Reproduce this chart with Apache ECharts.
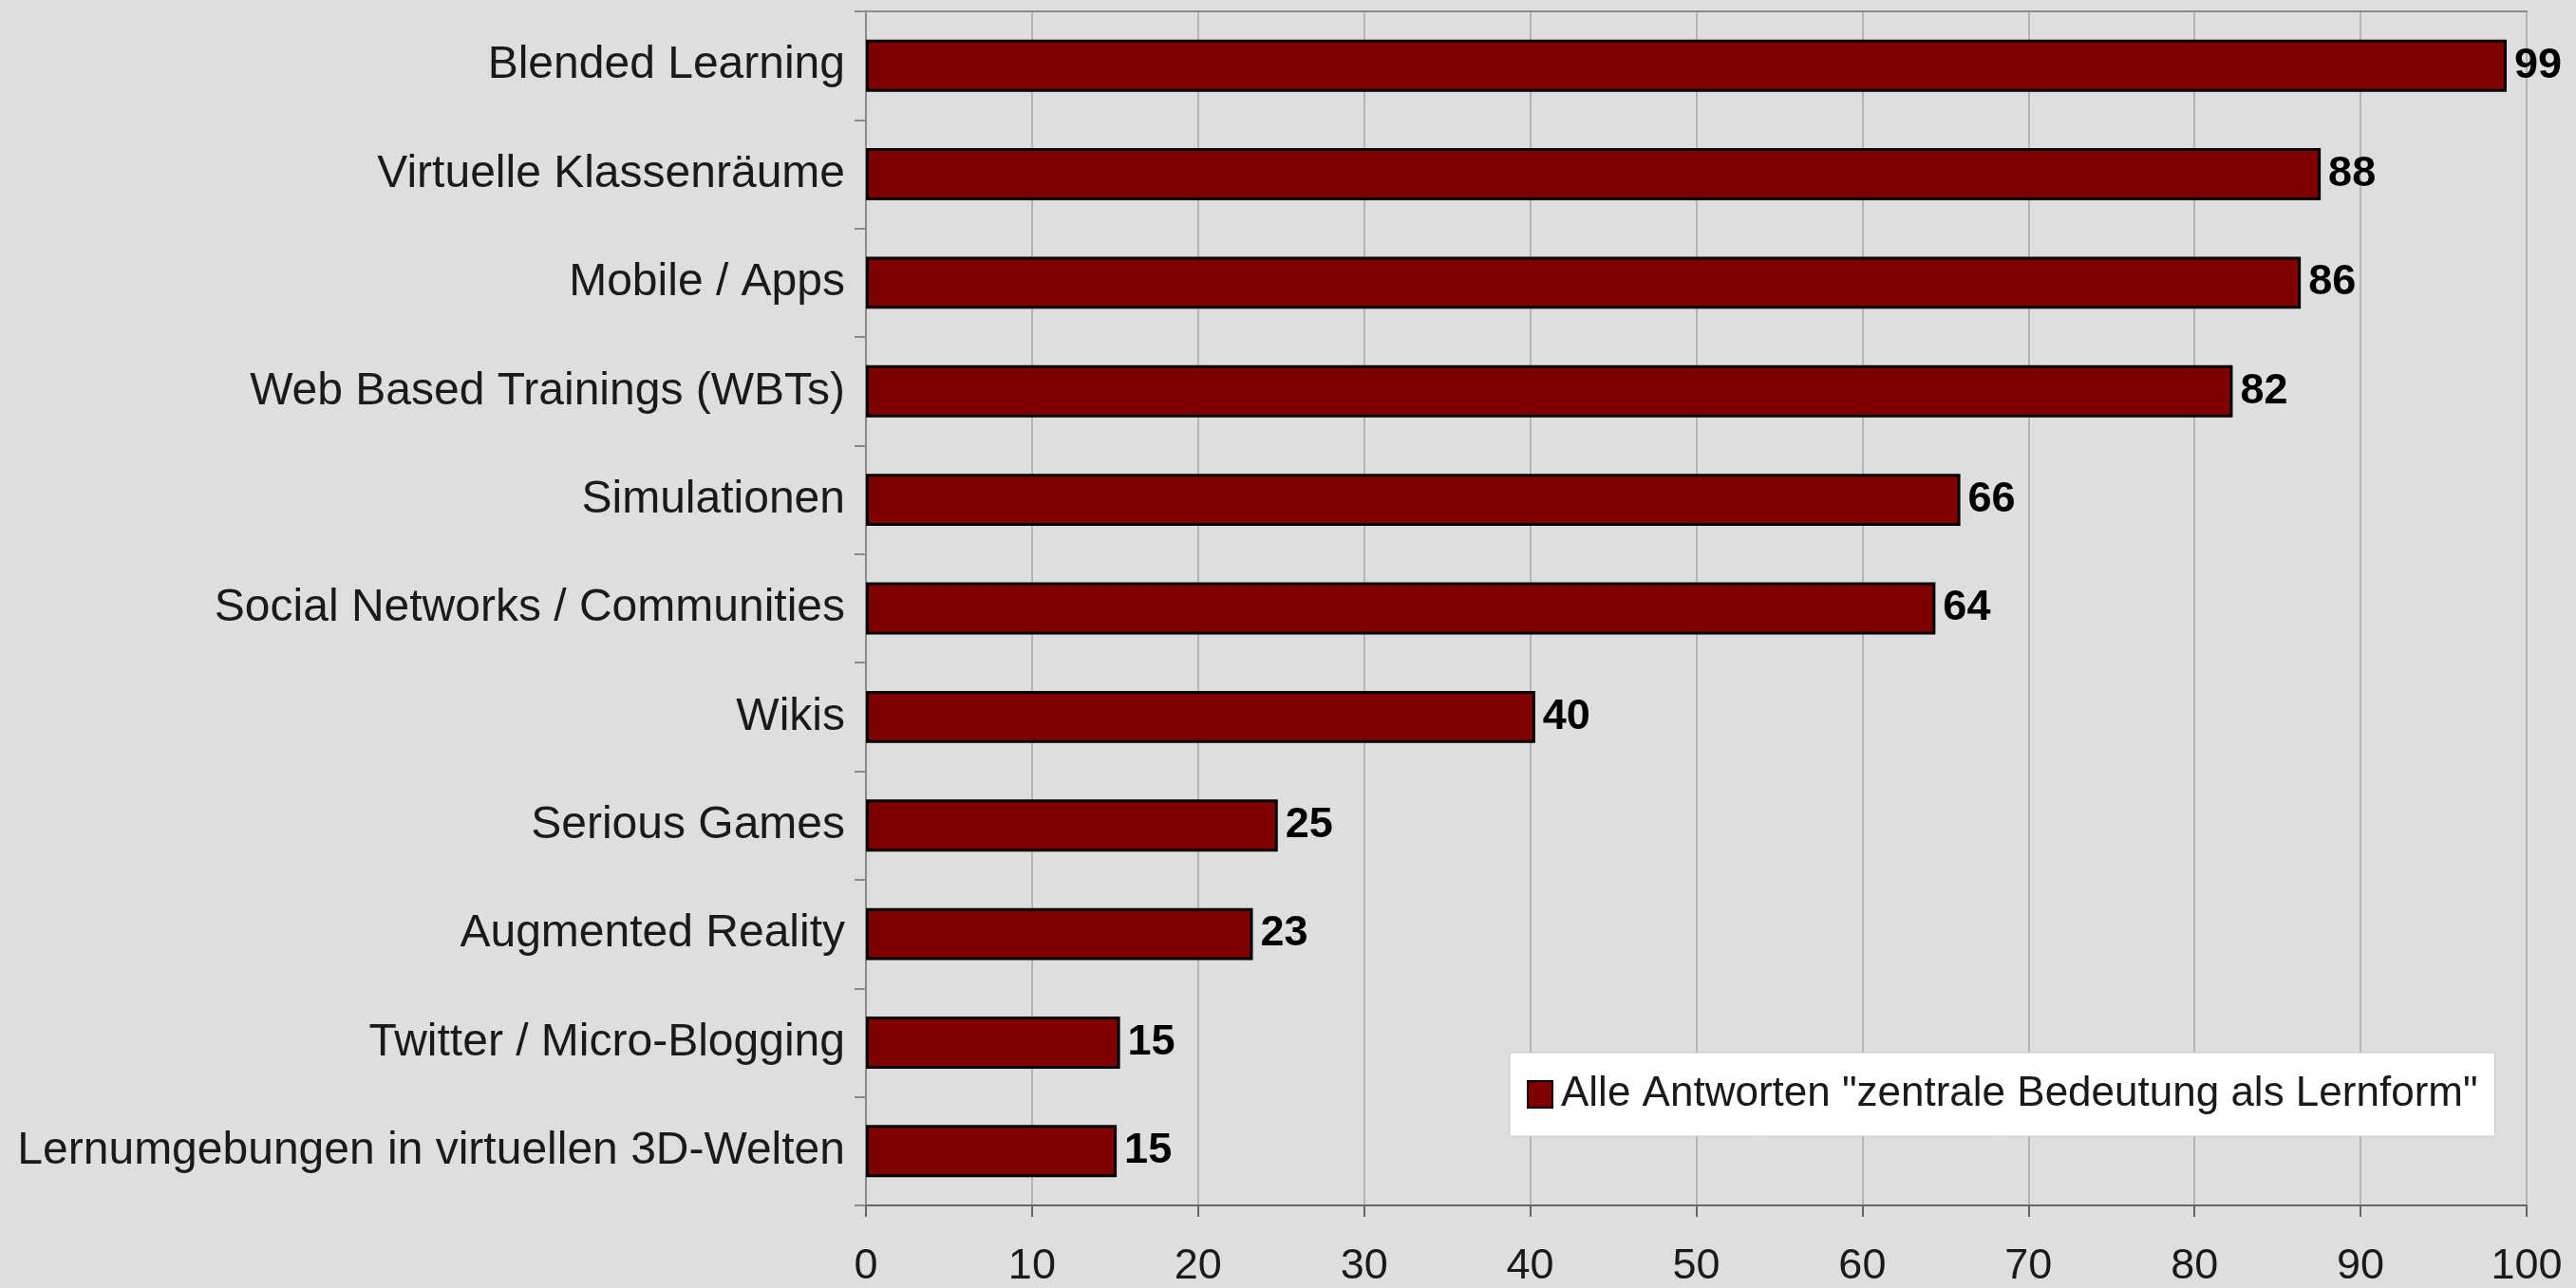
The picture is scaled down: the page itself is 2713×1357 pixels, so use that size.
<!DOCTYPE html>
<html>
<head>
<meta charset="utf-8">
<script src="https://cdn.jsdelivr.net/npm/echarts@6/dist/echarts.min.js"></script>
<style>
  html, body { margin: 0; padding: 0; background: #dedede; }
  #chart { width: 2713px; height: 1357px; }
</style>
</head>
<body>
<div id="chart"></div>
<script>
// categories top to bottom
const categories = [
  'Blended Learning',
  'Virtuelle Klassenräume',
  'Mobile / Apps',
  'Web Based Trainings (WBTs)',
  'Simulationen',
  'Social Networks / Communities',
  'Wikis',
  'Serious Games',
  'Augmented Reality',
  'Twitter / Micro-Blogging',
  'Lernumgebungen in virtuellen 3D-Welten',
];
const values = [98.8, 87.6, 86.4, 82.3, 65.9, 64.4, 40.3, 24.8, 23.3, 15.3, 15.1];
const seriesName = 'Alle Antworten "zentrale Bedeutung als Lernform"';
const xTicks = [0, 100, 10]; // min, max, interval

const font = '"Liberation Sans", Arial, sans-serif';
const chart = echarts.init(document.getElementById('chart'));

const option = {
  backgroundColor: '#dedede',
  textStyle: { fontFamily: font },
  grid: { left: 912, right: 52, top: 12, bottom: 82 },
  legend: {
    left: 1590,
    top: 1109,
    orient: 'horizontal',
    backgroundColor: '#ffffff',
    borderColor: '#c8c8c8',
    borderWidth: 1,
    padding: [22, 18, 22, 18],
    itemWidth: 26,
    itemHeight: 28,
    itemGap: 0,
    icon: 'rect',
    textStyle: { fontSize: 44, color: '#1a1a1a', fontFamily: font, padding: [0, 0, 0, 4] },
    data: [seriesName],
  },
  xAxis: [
    {
      type: 'value',
      min: xTicks[0],
      max: xTicks[1],
      interval: xTicks[2],
      axisLine: { show: true, lineStyle: { color: '#666', width: 2 } },
      axisTick: { show: true, length: 12, lineStyle: { color: '#666', width: 2 } },
      axisLabel: { fontSize: 45, color: '#1a1a1a', margin: 42, fontFamily: font },
      splitLine: { show: true, lineStyle: { color: '#b4b4b4', width: 2 } },
    },
    {
      // top border line
      type: 'value',
      position: 'top',
      min: xTicks[0],
      max: xTicks[1],
      interval: xTicks[2],
      axisLine: { show: true, lineStyle: { color: '#8a8a8a', width: 2 } },
      axisTick: { show: false },
      axisLabel: { show: false },
      splitLine: { show: false },
    },
  ],
  yAxis: {
    type: 'category',
    inverse: true,
    data: categories,
    axisLine: { show: true, lineStyle: { color: '#8a8a8a', width: 2 } },
    axisTick: { show: true, length: 12, lineStyle: { color: '#8a8a8a', width: 2 } },
    axisLabel: { fontSize: 48, color: '#1a1a1a', margin: 22, fontFamily: font },
  },
  series: [
    {
      name: seriesName,
      type: 'bar',
      barWidth: '48%',
      data: values,
      itemStyle: { color: '#800000', borderColor: '#000', borderWidth: 3 },
      label: {
        show: true,
        position: 'right',
        distance: 8,
        fontSize: 45,
        fontWeight: 'bold',
        color: '#000',
        fontFamily: font,
        formatter: (p) => Math.round(p.value),
      },
    },
  ],
};

chart.setOption(option);
</script>
</body>
</html>
